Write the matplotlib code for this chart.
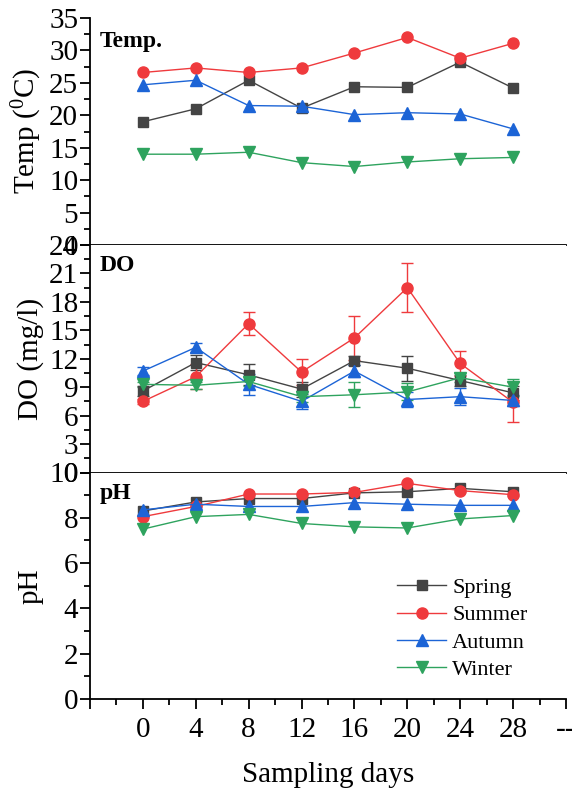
import matplotlib
matplotlib.use("Agg")
import matplotlib.pyplot as plt
from matplotlib.ticker import MultipleLocator, FixedLocator
import numpy as np

plt.rcParams['font.family'] = ['Liberation Serif', 'DejaVu Serif']
plt.rcParams['mathtext.fontset'] = 'stix'

days = ['0', '4', '8', '12', '16', '20', '24', '28']
xlabels = [''] + days + ['--']
seasons = ['Spring', 'Summer', 'Autumn', 'Winter']

temp_spring = [19.0, 21.0, 25.4, 21.1, 24.4, 24.3, 28.2, 24.2]
temp_summer = [26.6, 27.3, 26.6, 27.3, 29.6, 32.0, 28.8, 31.1]
temp_autumn = [24.7, 25.4, 21.5, 21.4, 20.1, 20.4, 20.2, 17.9]
temp_winter = [14.0, 14.0, 14.3, 12.7, 12.1, 12.8, 13.3, 13.5]

do_spring = [8.6, 11.6, 10.3, 8.8, 11.8, 11.0, 9.7, 8.4]
do_summer = [7.5, 10.1, 15.7, 10.6, 14.2, 19.5, 11.5, 7.4]
do_autumn = [10.7, 13.2, 9.3, 7.5, 10.7, 7.7, 8.0, 7.6]
do_winter = [9.3, 9.2, 9.6, 8.0, 8.2, 8.5, 10.0, 9.0]

do_spring_err = [0.5, 0.8, 1.1, 0.8, 0.5, 1.3, 0.6, 0.7]
do_summer_err = [0.3, 1.3, 1.2, 1.4, 2.3, 2.6, 1.3, 2.1]
do_autumn_err = [0.4, 0.5, 1.1, 0.8, 0.6, 0.8, 0.9, 0.6]
do_winter_err = [0.3, 0.4, 0.5, 0.6, 1.3, 0.9, 0.5, 0.9]

ph_spring = [8.3, 8.7, 8.85, 8.85, 9.1, 9.15, 9.3, 9.15]
ph_summer = [8.05, 8.5, 9.05, 9.05, 9.12, 9.52, 9.2, 9.02]
ph_autumn = [8.35, 8.6, 8.5, 8.5, 8.67, 8.6, 8.55, 8.55]
ph_winter = [7.5, 8.05, 8.15, 7.75, 7.6, 7.55, 7.95, 8.1]

colors = ['#444444', '#ef3a3d', '#1c64d6', '#2ea35e']
markers = ['s', 'o', '^', 'v']
msizes = [7, 8, 8.5, 8.5]

fig = plt.figure(figsize=(5.72, 7.92), dpi=100)
L, R = 90/572, 566/572
def yf(p):
    return 1 - p/792
ax1 = fig.add_axes([L, yf(245), R-L, yf(18)-yf(245)])
ax2 = fig.add_axes([L, yf(472.5), R-L, yf(245)-yf(472.5)])
ax3 = fig.add_axes([L, yf(699), R-L, yf(472.5)-yf(699)])

x = np.arange(1, len(days)+1)

temp = [temp_spring, temp_summer, temp_autumn, temp_winter]
do = [do_spring, do_summer, do_autumn, do_winter]
doe = [do_spring_err, do_summer_err, do_autumn_err, do_winter_err]
ph = [ph_spring, ph_summer, ph_autumn, ph_winter]

for i in range(4):
    ax1.plot(x, temp[i], color=colors[i], marker=markers[i], ms=msizes[i],
             lw=1.0, mec=colors[i])
    ax2.errorbar(x, do[i], yerr=doe[i], color=colors[i], marker=markers[i],
                 ms=msizes[i], lw=1.0, elinewidth=1.0, capsize=4, capthick=1.0)
    ax3.plot(x, ph[i], color=colors[i], marker=markers[i], ms=msizes[i],
             lw=1.0, label=seasons[i])

fs = 21
for ax in (ax1, ax2, ax3):
    ax.set_xlim(0, 9)
    ax.spines['top'].set_visible(False)
    ax.spines['right'].set_visible(False)
    ax.spines['left'].set_linewidth(1.3)
    ax.spines['bottom'].set_linewidth(1.3)
    ax.tick_params(axis='y', which='major', direction='out', length=7, width=1.3, labelsize=fs, pad=1.5)
    ax.tick_params(axis='y', which='minor', direction='out', length=4, width=1.3)

for ax in (ax1, ax2):
    ax.tick_params(axis='x', which='both', bottom=False, labelbottom=False)

ax1.set_ylim(0, 35)
ax1.yaxis.set_major_locator(MultipleLocator(5))
ax1.yaxis.set_minor_locator(MultipleLocator(2.5))
ax2.set_ylim(0, 24)
ax2.yaxis.set_major_locator(MultipleLocator(3))
ax2.yaxis.set_minor_locator(MultipleLocator(1.5))
ax3.set_ylim(0, 10)
ax3.yaxis.set_major_locator(MultipleLocator(2))
ax3.yaxis.set_minor_locator(MultipleLocator(1))

ax3.set_xticks(np.arange(0, 10))
ax3.set_xticklabels(xlabels)
ax3.xaxis.set_minor_locator(FixedLocator(np.arange(0.5, 9, 1)))
ax3.tick_params(axis='x', which='major', direction='out', length=7, width=1.3, labelsize=fs, pad=6)
ax3.tick_params(axis='x', which='minor', direction='out', length=4, width=1.3)

ax1.set_ylabel(r'Temp ($\mathregular{^0}$C)', fontsize=21)
ax2.set_ylabel('DO (mg/l)', fontsize=21)
ax3.set_ylabel('pH', fontsize=21)
for ax in (ax1, ax2, ax3):
    ax.yaxis.set_label_coords(-0.097, 0.5)
ax3.set_xlabel('Sampling days', fontsize=21, labelpad=14)

ax1.text(0.02, 0.896, 'Temp.', transform=ax1.transAxes, fontsize=17,
         fontweight='bold', va='center', ha='left')
ax2.text(0.02, 0.912, 'DO', transform=ax2.transAxes, fontsize=17,
         fontweight='bold', va='center', ha='left')
ax3.text(0.02, 0.909, 'pH', transform=ax3.transAxes, fontsize=17,
         fontweight='bold', va='center', ha='left')

leg = ax3.legend(loc='upper left', bbox_to_anchor=(0.627, 0.575), frameon=False,
                 fontsize=16, handlelength=2.2, handletextpad=0.27,
                 labelspacing=0.3, borderaxespad=0)

fig.savefig('out.png', dpi=100)
